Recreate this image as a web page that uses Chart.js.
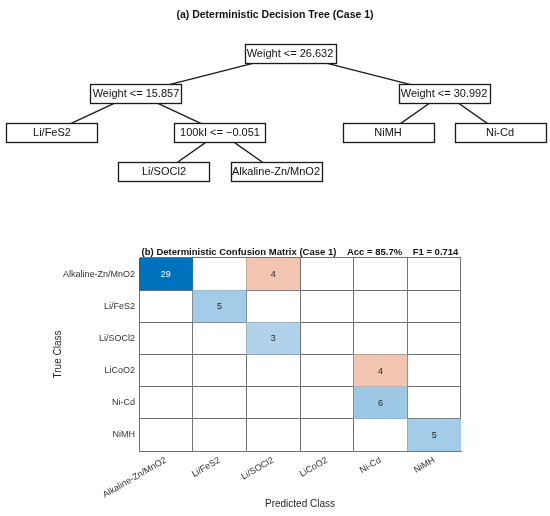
<!DOCTYPE html>
<html><head><meta charset="utf-8">
<script src="https://cdn.jsdelivr.net/npm/chart.js@4.4.1/dist/chart.umd.min.js"></script>
<style>
html,body{margin:0;padding:0;background:#fff;}
#a{position:absolute;left:0;top:0;}
#b{position:absolute;left:0;top:225px;}
</style></head><body>
<canvas id="a" width="550" height="225"></canvas>
<canvas id="b" width="550" height="291"></canvas>
<script>
const FONT = '"Liberation Sans", Arial, Helvetica, sans-serif';

// ---- Decision tree data ----
const treeTitle = '(a) Deterministic Decision Tree (Case 1)';
const nodeLabels = ['Weight <= 26.632', 'Weight <= 15.857', 'Weight <= 30.992', 'Li/FeS2', '100kI <= \u22120.051', 'NiMH', 'Ni-Cd', 'Li/SOCl2', 'Alkaline-Zn/MnO2'];
const nodeParents = [-1, 0, 0, 1, 1, 2, 2, 4, 4];

// ---- Confusion matrix data ----
const matrixTitle = '(b) Deterministic Confusion Matrix (Case 1)    Acc = 85.7%    F1 = 0.714';
const trueClasses = ['Alkaline-Zn/MnO2', 'Li/FeS2', 'Li/SOCl2', 'LiCoO2', 'Ni-Cd', 'NiMH'];
const predictedClasses = ['Alkaline-Zn/MnO2', 'Li/FeS2', 'Li/SOCl2', 'LiCoO2', 'Ni-Cd', 'NiMH'];
const counts = [
  [29, 0, 4, 0, 0, 0],
  [0, 5, 0, 0, 0, 0],
  [0, 0, 3, 0, 0, 0],
  [0, 0, 0, 0, 4, 0],
  [0, 0, 0, 0, 6, 0],
  [0, 0, 0, 0, 0, 5]
];

// ---- tree layout from structure ----
const children = nodeLabels.map(() => []);
nodeParents.forEach((p, i) => { if (p >= 0) children[p].push(i); });
const depth = [], posX = [];
let leafCount = 0;
function place(i, d) {
  depth[i] = d;
  if (!children[i].length) { posX[i] = leafCount++; }
  else {
    children[i].forEach(c => place(c, d + 1));
    posX[i] = children[i].reduce((s, c) => s + posX[c], 0) / children[i].length;
  }
}
place(0, 0);

const edgeDatasets = [];
nodeParents.forEach((p, i) => {
  if (p < 0) return;
  edgeDatasets.push({
    data: [{x: posX[p], y: depth[p]}, {x: posX[i], y: depth[i]}],
    showLine: true, borderColor: '#1a1a1a', borderWidth: 1.3, pointRadius: 0
  });
});

const treeBoxes = {
  id: 'treeBoxes',
  afterDatasetsDraw(chart) {
    const {ctx, scales: {x, y}} = chart;
    ctx.save();
    ctx.font = '11px ' + FONT;
    ctx.textAlign = 'center';
    ctx.textBaseline = 'middle';
    const w = 91, h = 19;
    nodeLabels.forEach((lab, i) => {
      const px = x.getPixelForValue(posX[i]);
      const py = y.getPixelForValue(depth[i]);
      const lx = Math.round(px - w / 2) + 0.5, ty = Math.round(py - h / 2) + 0.5;
      ctx.fillStyle = '#fff';
      ctx.fillRect(lx, ty, w, h);
      ctx.strokeStyle = '#1a1a1a';
      ctx.lineWidth = 1.3;
      ctx.strokeRect(lx, ty, w, h);
      ctx.fillStyle = '#111';
      ctx.fillText(lab, px, py + 0.5);
    });
    ctx.restore();
  }
};

new Chart(document.getElementById('a'), {
  type: 'scatter',
  data: {datasets: edgeDatasets},
  options: {
    responsive: false, animation: false,
    layout: {padding: 0},
    plugins: {
      legend: {display: false}, tooltip: {enabled: false},
      title: {display: true, text: treeTitle, color: '#111',
        font: {size: 10.5, weight: 'bold', family: FONT}, padding: {top: 9, bottom: 0}}
    },
    scales: {
      x: {type: 'linear', display: false, min: -0.464, max: 4.446},
      y: {type: 'linear', display: false, reverse: true, min: -0.819, max: 4.357}
    }
  },
  plugins: [treeBoxes]
});

// ---- confusion matrix ----
const cellPoints = [];
counts.forEach((row, i) => row.forEach((v, j) => {
  cellPoints.push({x: predictedClasses[j], y: trueClasses[i], v: v, diag: i === j});
}));
const maxCount = Math.max(...counts.flat());

function cellColor(v, diag) {
  const t = 0.23 + 0.77 * v / maxCount;
  const base = diag ? [0, 114, 189] : [217, 83, 25];
  const c = base.map(b => Math.round(255 + (b - 255) * t));
  return 'rgb(' + c.join(',') + ')';
}

const cells = {
  id: 'cells',
  afterDatasetsDraw(chart) {
    const {ctx, scales: {x, y}} = chart;
    const meta = chart.getDatasetMeta(0);
    const cw = x.width / predictedClasses.length;
    const ch = y.height / trueClasses.length;
    ctx.save();
    ctx.font = '9px ' + FONT;
    ctx.textAlign = 'center';
    ctx.textBaseline = 'middle';
    meta.data.forEach((pt, k) => {
      const d = cellPoints[k];
      if (!d.v) return;
      ctx.fillStyle = cellColor(d.v, d.diag);
      ctx.fillRect(pt.x - cw / 2, pt.y - ch / 2, cw, ch);
      ctx.fillStyle = d.v / maxCount > 0.5 ? '#fff' : '#262626';
      ctx.fillText(String(d.v), pt.x, pt.y + 0.5);
    });
    ctx.restore();
  },
  afterDraw(chart) {
    const {ctx, chartArea} = chart;
    ctx.save();
    ctx.font = 'bold 9.5px ' + FONT;
    ctx.textAlign = 'center';
    ctx.textBaseline = 'middle';
    ctx.fillStyle = '#111';
    ctx.fillText(matrixTitle, (chartArea.left + chartArea.right) / 2, chartArea.top - 6);
    ctx.restore();
  }
};

const gridStyle = {offset: true, color: '#737373', lineWidth: 1, drawTicks: false};
new Chart(document.getElementById('b'), {
  type: 'scatter',
  data: {datasets: [{data: cellPoints, pointRadius: 0, pointHoverRadius: 0}]},
  options: {
    responsive: false, animation: false,
    layout: {padding: {top: 33, right: 89, bottom: 0, left: 0}},
    plugins: {legend: {display: false}, tooltip: {enabled: false}},
    scales: {
      x: {
        type: 'category', labels: predictedClasses, offset: true, position: 'bottom', z: 1,
        grid: gridStyle, border: {display: true, color: '#737373'},
        ticks: {font: {size: 9, family: FONT}, color: '#333', minRotation: 30, maxRotation: 30, padding: 4, autoSkip: false},
        title: {display: true, text: 'Predicted Class', color: '#262626', font: {size: 10, family: FONT}, padding: {top: 0, bottom: 6}},
        afterFit: s => { s.height = 65; }
      },
      y: {
        type: 'category', labels: trueClasses, offset: true, position: 'left', z: 1,
        grid: gridStyle, border: {display: true, color: '#737373'},
        ticks: {font: {size: 9, family: FONT}, color: '#333', padding: 4, autoSkip: false},
        title: {display: true, text: 'True Class', color: '#262626', font: {size: 10, family: FONT}, padding: {top: 52, bottom: 0}},
        afterFit: s => { s.width = 139; }
      }
    }
  },
  plugins: [cells]
});
</script>
</body></html>
